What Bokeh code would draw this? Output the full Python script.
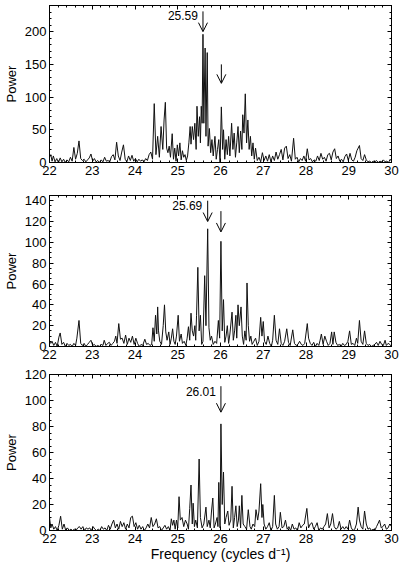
from bokeh.plotting import figure
from bokeh.layouts import column
from bokeh.models import (LinearAxis, SingleIntervalTicker, Range1d, Arrow,
                          OpenHead, Label)
from bokeh.embed import file_html
from bokeh.resources import INLINE

# ---------------- data ----------------
freq_a = [22.00, 22.03, 22.06, 22.09, 22.13, 22.17, 22.21, 22.25, 22.29, 22.33, 22.37, 22.41, 22.45, 22.49,
          22.53, 22.57, 22.61, 22.65, 22.69, 22.73, 22.77, 22.81, 22.85, 22.89, 22.93, 22.97, 23.01, 23.05,
          23.09, 23.13, 23.17, 23.21, 23.25, 23.29, 23.33, 23.37, 23.41, 23.45, 23.49, 23.53, 23.57, 23.61,
          23.65, 23.69, 23.73, 23.77, 23.81, 23.85, 23.89, 23.93, 23.97, 24.01, 24.05, 24.09, 24.13, 24.17,
          24.21, 24.25, 24.29, 24.33, 24.37, 24.41, 24.45, 24.49, 24.53, 24.57, 24.61, 24.65, 24.68, 24.71,
          24.74, 24.77, 24.80, 24.83, 24.87, 24.90, 24.93, 24.96, 24.99, 25.02, 25.05, 25.08, 25.11, 25.14,
          25.17, 25.20, 25.23, 25.26, 25.29, 25.31, 25.34, 25.37, 25.40, 25.43, 25.45, 25.48, 25.51, 25.53,
          25.55, 25.57, 25.59, 25.61, 25.64, 25.66, 25.69, 25.71, 25.74, 25.77, 25.80, 25.83, 25.87, 25.90,
          25.93, 25.96, 25.99, 26.02, 26.05, 26.07, 26.10, 26.13, 26.16, 26.19, 26.22, 26.26, 26.29, 26.32,
          26.35, 26.38, 26.41, 26.44, 26.47, 26.50, 26.52, 26.55, 26.58, 26.61, 26.64, 26.67, 26.70, 26.73,
          26.76, 26.79, 26.82, 26.86, 26.90, 26.94, 26.98, 27.02, 27.06, 27.10, 27.14, 27.18, 27.22, 27.26,
          27.30, 27.34, 27.38, 27.42, 27.46, 27.50, 27.54, 27.58, 27.62, 27.66, 27.71, 27.75, 27.79, 27.83,
          27.87, 27.91, 27.95, 27.99, 28.03, 28.07, 28.11, 28.15, 28.19, 28.23, 28.27, 28.31, 28.35, 28.39,
          28.43, 28.47, 28.51, 28.55, 28.59, 28.63, 28.67, 28.71, 28.75, 28.79, 28.83, 28.87, 28.91, 28.95,
          28.99, 29.03, 29.07, 29.11, 29.15, 29.19, 29.22, 29.25, 29.29, 29.33, 29.37, 29.41, 29.45, 29.49,
          29.53, 29.57, 29.61, 29.65, 29.69, 29.73, 29.77, 29.81, 29.85, 29.89, 29.93, 29.97, 30.00]
power_a = [8, 12, 2, 10, 1, 6, 0, 7, 1, 5, 0, 4, 1, 8,
           2, 23, 5, 14, 33, 6, 3, 5, 1, 4, 7, 13, 2, 6,
           1, 3, 0, 4, 1, 8, 2, 3, 1, 9, 12, 4, 31, 10,
           3, 16, 27, 5, 1, 10, 3, 11, 2, 6, 1, 5, 2, 4,
           1, 6, 3, 12, 16, 5, 90, 12, 40, 8, 55, 20, 65, 92,
           22, 15, 25, 8, 44, 5, 22, 2, 27, 10, 30, 4, 18, 8,
           12, 3, 10, 30, 55, 28, 55, 35, 60, 20, 86, 40, 70, 30,
           86, 60, 196, 60, 175, 40, 168, 25, 52, 15, 35, 10, 40, 5,
           20, 35, 0, 85, 20, 50, 5, 35, 12, 40, 10, 60, 20, 45,
           8, 30, 55, 15, 48, 20, 73, 45, 105, 30, 65, 20, 40, 10,
           30, 5, 22, 3, 8, 1, 15, 3, 10, 2, 12, 1, 10, 3,
           16, 5, 12, 20, 4, 22, 25, 6, 12, 2, 37, 5, 8, 1,
           6, 3, 10, 2, 21, 4, 6, 1, 4, 2, 10, 3, 14, 5,
           8, 2, 12, 14, 4, 16, 21, 6, 10, 2, 5, 1, 9, 13,
           3, 14, 4, 2, 8, 18, 22, 26, 6, 3, 12, 4, 1, 2,
           0, 2, 1, 3, 0, 2, 1, 4, 1, 2, 0, 5, 2]

freq_b = [22.00, 22.03, 22.06, 22.10, 22.14, 22.18, 22.22, 22.25, 22.29, 22.33, 22.37, 22.41, 22.45, 22.49,
          22.53, 22.57, 22.61, 22.64, 22.69, 22.73, 22.77, 22.81, 22.85, 22.89, 22.93, 22.97, 23.01, 23.05,
          23.09, 23.13, 23.17, 23.21, 23.25, 23.28, 23.32, 23.36, 23.40, 23.44, 23.48, 23.52, 23.55, 23.58,
          23.62, 23.66, 23.70, 23.74, 23.78, 23.82, 23.86, 23.90, 23.94, 23.98, 24.02, 24.06, 24.10, 24.14,
          24.18, 24.23, 24.27, 24.31, 24.35, 24.39, 24.42, 24.45, 24.48, 24.51, 24.53, 24.55, 24.58, 24.62,
          24.66, 24.69, 24.72, 24.75, 24.79, 24.82, 24.85, 24.88, 24.91, 24.94, 24.97, 25.01, 25.04, 25.08,
          25.11, 25.15, 25.19, 25.22, 25.25, 25.28, 25.31, 25.34, 25.37, 25.40, 25.42, 25.44, 25.47, 25.50,
          25.53, 25.56, 25.59, 25.63, 25.66, 25.70, 25.73, 25.76, 25.79, 25.83, 25.87, 25.91, 25.95, 25.98,
          26.01, 26.04, 26.07, 26.10, 26.13, 26.16, 26.19, 26.22, 26.27, 26.30, 26.33, 26.36, 26.38, 26.41,
          26.44, 26.48, 26.51, 26.54, 26.57, 26.60, 26.62, 26.65, 26.68, 26.71, 26.74, 26.78, 26.82, 26.86,
          26.90, 26.94, 26.97, 27.00, 27.03, 27.07, 27.11, 27.15, 27.19, 27.22, 27.26, 27.30, 27.34, 27.38,
          27.42, 27.46, 27.50, 27.55, 27.59, 27.63, 27.69, 27.73, 27.77, 27.81, 27.85, 27.89, 27.93, 27.97,
          28.03, 28.06, 28.10, 28.14, 28.18, 28.22, 28.26, 28.30, 28.33, 28.36, 28.40, 28.44, 28.48, 28.52,
          28.56, 28.60, 28.63, 28.66, 28.70, 28.74, 28.78, 28.82, 28.86, 28.90, 28.94, 28.98, 29.02, 29.06,
          29.10, 29.14, 29.18, 29.21, 29.25, 29.29, 29.33, 29.37, 29.41, 29.45, 29.49, 29.53, 29.57, 29.61,
          29.65, 29.69, 29.73, 29.77, 29.81, 29.85, 29.88, 29.92, 29.96, 30.00]
power_b = [5, 3, 5, 1, 4, 0, 9, 13, 2, 4, 0, 3, 1, 2,
           0, 3, 1, 8, 25, 3, 1, 3, 0, 2, 4, 6, 1, 2,
           0, 1, 0, 2, 1, 6, 1, 3, 4, 1, 3, 5, 10, 3,
           22, 7, 8, 3, 11, 2, 8, 4, 10, 2, 8, 3, 0, 2,
           1, 7, 2, 3, 1, 2, 18, 5, 30, 12, 38, 15, 5, 2,
           20, 40, 14, 6, 14, 2, 8, 17, 5, 2, 10, 30, 5, 12,
           3, 5, 1, 8, 19, 6, 32, 15, 10, 20, 6, 30, 76, 15,
           30, 2, 5, 68, 20, 113, 18, 6, 10, 2, 5, 3, 25, 8,
           101, 15, 45, 4, 10, 20, 3, 12, 33, 6, 15, 30, 8, 40,
           20, 38, 10, 2, 15, 6, 61, 20, 5, 10, 2, 5, 8, 1,
           5, 28, 10, 24, 5, 2, 10, 3, 0, 6, 30, 6, 2, 17,
           3, 1, 5, 17, 4, 1, 16, 3, 1, 2, 5, 2, 1, 3,
           22, 8, 3, 1, 4, 0, 3, 1, 6, 12, 2, 10, 5, 1,
           3, 14, 2, 14, 4, 1, 2, 0, 3, 1, 2, 5, 15, 2,
           3, 1, 8, 3, 25, 5, 2, 15, 3, 1, 2, 0, 1, 2,
           4, 1, 5, 2, 1, 6, 1, 3, 2, 0]

freq_c = [22.00, 22.03, 22.06, 22.10, 22.14, 22.18, 22.22, 22.26, 22.30, 22.34, 22.38, 22.42, 22.46, 22.50,
          22.54, 22.58, 22.62, 22.66, 22.70, 22.74, 22.78, 22.82, 22.86, 22.90, 22.94, 22.98, 23.02, 23.06,
          23.10, 23.14, 23.18, 23.22, 23.26, 23.30, 23.34, 23.38, 23.42, 23.46, 23.50, 23.54, 23.58, 23.62,
          23.66, 23.70, 23.74, 23.78, 23.82, 23.86, 23.90, 23.94, 23.98, 24.02, 24.06, 24.10, 24.14, 24.18,
          24.22, 24.26, 24.30, 24.34, 24.38, 24.42, 24.46, 24.50, 24.54, 24.58, 24.62, 24.66, 24.70, 24.74,
          24.78, 24.82, 24.85, 24.88, 24.91, 24.94, 24.97, 25.00, 25.03, 25.06, 25.10, 25.14, 25.18, 25.22,
          25.25, 25.28, 25.31, 25.34, 25.36, 25.39, 25.42, 25.46, 25.50, 25.53, 25.57, 25.61, 25.66, 25.69,
          25.73, 25.76, 25.79, 25.82, 25.85, 25.88, 25.92, 25.94, 25.96, 25.99, 26.01, 26.04, 26.07, 26.10,
          26.13, 26.17, 26.20, 26.24, 26.27, 26.30, 26.33, 26.36, 26.39, 26.42, 26.44, 26.47, 26.50, 26.53,
          26.57, 26.61, 26.65, 26.69, 26.72, 26.76, 26.80, 26.83, 26.87, 26.90, 26.94, 26.97, 26.99, 27.02,
          27.06, 27.10, 27.14, 27.18, 27.22, 27.26, 27.29, 27.33, 27.37, 27.40, 27.44, 27.48, 27.52, 27.56,
          27.60, 27.64, 27.68, 27.72, 27.76, 27.80, 27.84, 27.88, 27.92, 27.96, 28.02, 28.06, 28.10, 28.14,
          28.18, 28.22, 28.26, 28.30, 28.34, 28.38, 28.42, 28.46, 28.50, 28.54, 28.58, 28.62, 28.66, 28.70,
          28.74, 28.78, 28.82, 28.86, 28.90, 28.94, 28.98, 29.02, 29.06, 29.10, 29.14, 29.18, 29.22, 29.25,
          29.29, 29.33, 29.37, 29.41, 29.45, 29.49, 29.53, 29.57, 29.61, 29.65, 29.68, 29.72, 29.76, 29.80,
          29.84, 29.88, 29.92, 29.96, 30.00]
power_c = [10, 2, 5, 1, 3, 0, 4, 11, 1, 5, 0, 2, 0, 1,
           0, 1, 0, 2, 3, 1, 3, 0, 2, 1, 2, 0, 3, 1,
           0, 1, 0, 3, 1, 2, 0, 4, 1, 5, 8, 2, 5, 1,
           7, 3, 6, 1, 5, 2, 10, 11, 3, 6, 1, 4, 1, 3,
           0, 2, 5, 2, 10, 3, 5, 9, 2, 3, 0, 2, 4, 1,
           3, 0, 9, 4, 8, 1, 8, 2, 26, 8, 10, 3, 8, 5,
           1, 17, 35, 5, 21, 3, 8, 2, 55, 10, 2, 5, 18, 3,
           8, 2, 15, 25, 2, 5, 10, 3, 37, 2, 82, 20, 45, 5,
           10, 15, 4, 8, 34, 2, 10, 19, 3, 8, 19, 2, 27, 5,
           3, 1, 16, 3, 1, 5, 3, 16, 8, 15, 36, 10, 20, 5,
           1, 3, 6, 0, 3, 27, 5, 1, 3, 14, 2, 3, 8, 1,
           3, 0, 5, 1, 2, 0, 6, 2, 4, 5, 17, 2, 5, 6,
           1, 3, 6, 0, 2, 1, 3, 5, 13, 2, 5, 13, 3, 1,
           2, 7, 1, 3, 1, 3, 1, 8, 2, 0, 1, 5, 18, 8,
           3, 1, 15, 5, 1, 2, 0, 1, 0, 3, 5, 8, 2, 3,
           5, 1, 2, 5, 3]

x_ticks_interval = 1
y_max = [240, 145, 120]
y_interval = [50, 20, 20]
y_minor = [5, 4, 4]

# arrows: (x, y_start, y_end)
arrows_a = [(25.59, 231, 200), (26.02, 150, 121)]
arrows_b = [(25.70, 140, 120), (26.01, 130, 110)]
arrows_c = [(26.01, 111, 91)]
labels_a = [(25.59, 224, "25.59")]
labels_b = [(25.69, 135, "25.69")]
labels_c = [(26.01, 107, "26.01")]

FONT = "Liberation Sans"


def style_axis(ax, show_labels=True):
    ax.major_tick_in = 4
    ax.major_tick_out = 0
    ax.minor_tick_in = 2
    ax.minor_tick_out = 0
    ax.axis_line_color = "black"
    ax.major_tick_line_color = "black"
    ax.minor_tick_line_color = "black"
    ax.major_label_text_font = FONT
    ax.axis_label_text_font = FONT
    ax.axis_label_text_font_style = "normal"
    ax.axis_label_text_color = "black"
    if show_labels:
        ax.major_label_text_color = "black"
        ax.major_label_text_font_size = "13px"
        ax.major_label_standoff = 3
    else:
        ax.major_label_text_color = None
        ax.major_label_text_font_size = "1px"
        ax.major_label_standoff = 0


def panel(fx, py, ymax, yint, ymin_n, arrows, labels, fheight, btop, bbot, xlabel=None):
    p = figure(width=399, frame_height=fheight, output_backend="svg", toolbar_location=None,
               x_range=Range1d(22, 30), y_range=Range1d(0, ymax),
               x_axis_location=None, y_axis_location=None,
               min_border_left=46, min_border_right=8, min_border_top=btop,
               min_border_bottom=bbot)
    p.grid.visible = False
    p.outline_line_color = "black"
    p.background_fill_color = "white"
    p.border_fill_color = "white"

    xt = SingleIntervalTicker(interval=x_ticks_interval, num_minor_ticks=5)
    yt = SingleIntervalTicker(interval=yint, num_minor_ticks=ymin_n)

    xb = LinearAxis(ticker=xt)
    style_axis(xb)
    if xlabel:
        xb.axis_label = xlabel
        xb.axis_label_text_font_size = "14px"
        xb.axis_label_standoff = 0
    p.add_layout(xb, "below")

    xa = LinearAxis(ticker=xt)
    style_axis(xa, show_labels=False)
    p.add_layout(xa, "above")

    yl = LinearAxis(ticker=yt, axis_label="Power")
    style_axis(yl)
    yl.axis_label_text_font_size = "13px"
    yl.axis_label_standoff = 3
    p.add_layout(yl, "left")

    yr = LinearAxis(ticker=yt)
    style_axis(yr, show_labels=False)
    p.add_layout(yr, "right")

    p.line(fx, py, line_color="#111111", line_width=1)

    for (ax_, y0, y1) in arrows:
        p.add_layout(Arrow(x_start=ax_, y_start=y0, x_end=ax_, y_end=y1,
                           line_color="black", line_width=1,
                           end=OpenHead(size=9, line_color="black", line_width=1)))
    for (lx, ly, txt) in labels:
        p.add_layout(Label(x=lx, y=ly, text=txt, text_align="right", text_baseline="middle",
                           x_offset=-5, text_font=FONT, text_font_size="12px",
                           text_color="black"))
    return p


p1 = panel(freq_a, power_a, y_max[0], y_interval[0], y_minor[0], arrows_a, labels_a, 157, 5, 22)
p2 = panel(freq_b, power_b, y_max[1], y_interval[1], y_minor[1], arrows_b, labels_b, 151, 11, 18)
p3 = panel(freq_c, power_c, y_max[2], y_interval[2], y_minor[2], arrows_c, labels_c, 156, 10, 36,
           xlabel="Frequency (cycles d\u207b\u00b9)")

layout = column(p1, p2, p3, spacing=0)
open("out.html", "w").write(file_html(layout, INLINE))
